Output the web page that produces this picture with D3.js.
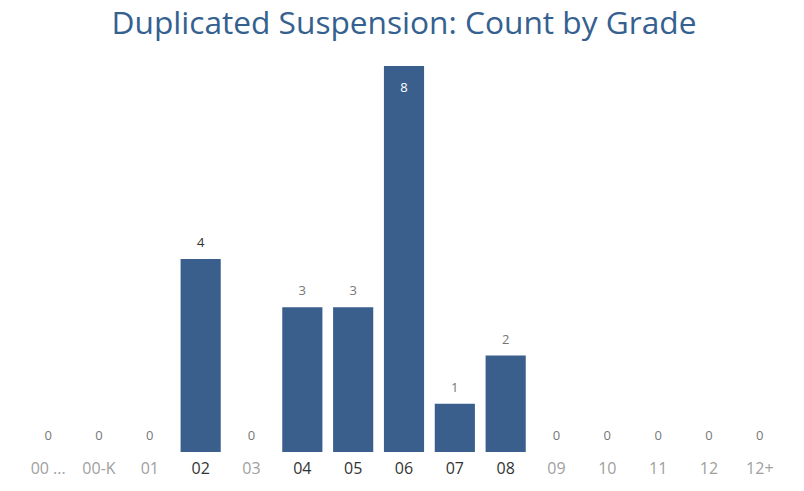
<!DOCTYPE html>
<html>
<head>
<meta charset="utf-8">
<script src="https://cdn.jsdelivr.net/npm/d3@7/dist/d3.min.js"></script>
<style>
	body { margin: 0; background: #fff; }
	svg { display: block; }
</style>
</head>
<body>
<div id="chart"></div>
<script>
var grades = [ "00 ...", "00-K", "01", "02", "03", "04", "05", "06", "07", "08", "09", "10", "11", "12", "12+" ];
var counts = [ 0, 0, 0, 4, 0, 3, 3, 8, 1, 2, 0, 0, 0, 0, 0 ];
var titleText = "Duplicated Suspension: Count by Grade";

var width = 804;
var height = 491;
var margin = { top: 66, bottom: 39, left: 23, right: 19 };

var svg = d3.select( "#chart" ).append( "svg" )
	.attr( "width", width )
	.attr( "height", height );

svg.append( "text" )
	.attr( "x", 404 )
	.attr( "y", 34 )
	.attr( "text-anchor", "middle" )
	.attr( "textLength", 585 )
	.attr( "lengthAdjust", "spacingAndGlyphs" )
	.attr( "style", "font: 31px 'Open Sans', sans-serif; fill: #34618f;" )
	.text( titleText );

var data = grades.map( function( g, i ) { return { grade: g, count: counts[ i ] }; } );

var x = d3.scaleBand()
	.domain( grades )
	.range( [ margin.left, width - margin.right ] )
	.paddingInner( 0.21 )
	.paddingOuter( 0.1 );

var y = d3.scaleLinear()
	.domain( [ 0, d3.max( counts ) ] )
	.range( [ height - margin.bottom, margin.top ] );

// bars
svg.append( "g" )
	.selectAll( "rect" )
	.data( data )
	.enter()
	.append( "rect" )
	.attr( "x", function( d ) { return x( d.grade ); } )
	.attr( "y", function( d ) { return y( d.count ); } )
	.attr( "width", x.bandwidth() )
	.attr( "height", function( d ) { return y( 0 ) - y( d.count ); } )
	.attr( "fill", "#3a5f8d" );

// value labels
var maxCount = d3.max( counts );
svg.append( "g" )
	.selectAll( "text" )
	.data( data )
	.enter()
	.append( "text" )
	.attr( "x", function( d ) { return x( d.grade ) + x.bandwidth() / 2; } )
	.attr( "y", function( d ) { return d.count == maxCount ? y( d.count ) + 26 : y( d.count ) - 12; } )
	.attr( "text-anchor", "middle" )
	.attr( "style", function( d ) {
		var fill = d.count == maxCount ? "#ffffff" : ( d.count == 4 ? "#333" : "#777" );
		return "font: 13px 'Open Sans', sans-serif; fill: " + fill + ";";
	} )
	.text( function( d ) { return d.count; } );

// x axis
var axis = svg.append( "g" )
	.attr( "transform", "translate(0," + ( height - margin.bottom ) + ")" )
	.call( d3.axisBottom( x ).tickSize( 0 ).tickPadding( 11 ) );

axis.select( ".domain" ).remove();
axis.selectAll( "text" )
	.attr( "style", function( g, i ) {
		var fill = counts[ i ] > 0 ? "#333" : "#a0a0a0";
		return "font: 16px 'Open Sans', sans-serif; fill: " + fill + ";";
	} );
</script>
</body>
</html>
